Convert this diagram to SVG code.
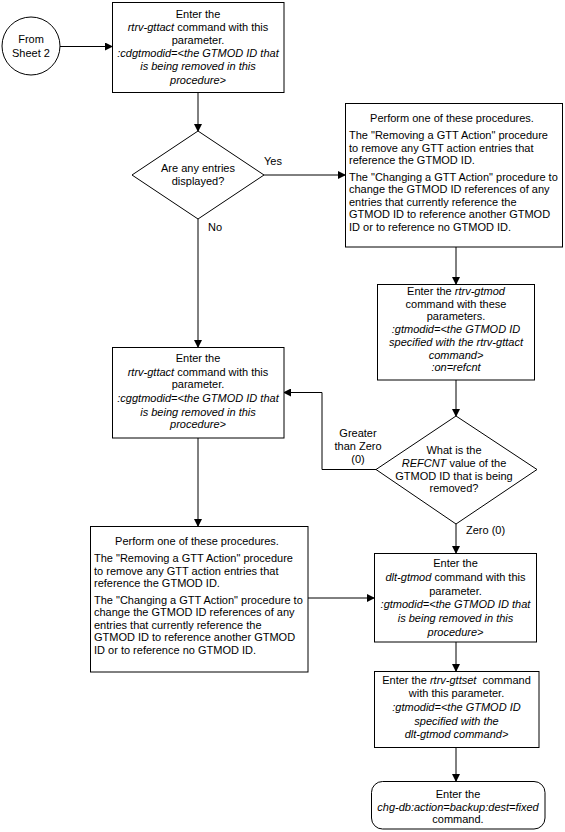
<svg xmlns="http://www.w3.org/2000/svg" width="565" height="832" viewBox="0 0 565 832">
<defs>
<marker id="ah" markerWidth="8" markerHeight="8" refX="7" refY="4" orient="auto" markerUnits="userSpaceOnUse">
<path d="M0,0 L8,4 L0,8 Z" fill="#000"/>
</marker>
<style>
.n{fill:#fff;stroke:#000;stroke-width:1}
.t{font-family:"Liberation Sans",Arial,sans-serif;font-size:11px;fill:#000}
.c{text-anchor:middle}
.i{font-style:italic}
.e{fill:none;stroke:#000;stroke-width:1;marker-end:url(#ah)}
.p{fill:none;stroke:#000;stroke-width:1}
</style>
</defs>
<rect width="565" height="832" fill="#fff"/>
<g id="connectors">
<line class="e" x1="60" y1="46.5" x2="112" y2="46.5"/>
<line class="e" x1="198" y1="92" x2="198" y2="131"/>
<line class="e" x1="264" y1="175" x2="345" y2="175"/>
<line class="e" x1="198" y1="219" x2="198" y2="347"/>
<line class="e" x1="456" y1="247" x2="456" y2="284"/>
<line class="e" x1="456" y1="380" x2="456" y2="416"/>
<polyline class="e" points="376,469.5 322,469.5 322,392.5 284,392.5"/>
<line class="e" x1="456" y1="524" x2="456" y2="553"/>
<line class="e" x1="198" y1="438" x2="198" y2="526"/>
<line class="e" x1="308" y1="598" x2="374" y2="598"/>
<line class="e" x1="456" y1="642" x2="456" y2="671"/>
<line class="e" x1="456" y1="747" x2="456" y2="781"/>
<text class="t" x="264" y="165">Yes</text>
<text class="t" x="208" y="231">No</text>
<text class="t c" x="358" y="437">Greater</text>
<text class="t c" x="358" y="450">than Zero</text>
<text class="t c" x="358" y="463">(0)</text>
<text class="t" x="466" y="534">Zero (0)</text>
</g>
<g id="start">
<circle class="n" cx="31" cy="46" r="29"/>
<text class="t c" x="31" y="43">From</text>
<text class="t c" x="31" y="57">Sheet 2</text>
</g>
<g id="box1">
<rect class="n" x="112.5" y="2.5" width="171.5" height="90"/>
<text class="t c" x="198" y="17.5">Enter the</text>
<text class="t c" x="198" y="30.8"><tspan class="i">rtrv-gttact</tspan> command with this</text>
<text class="t c" x="198" y="43.5">parameter.</text>
<text class="t c i" x="198" y="57.3">:cdgtmodid=&lt;the GTMOD ID that</text>
<text class="t c i" x="198" y="70">is being removed in this</text>
<text class="t c i" x="198" y="83.5">procedure&gt;</text>
</g>
<g id="decision1">
<polygon class="n" points="198,131 264,175 198,219 132,175"/>
<text class="t c" x="198" y="171.5">Are any entries</text>
<text class="t c" x="198" y="185">displayed?</text>
</g>
<g id="box2">
<rect class="n" x="345.5" y="103.5" width="217" height="143.5"/>
<text class="t c" x="452" y="122.3">Perform one of these procedures.</text>
<text class="t" x="349" y="139">The "Removing a GTT Action" procedure</text>
<text class="t" x="349" y="151.7">to remove any GTT action entries that</text>
<text class="t" x="349" y="164">reference the GTMOD ID.</text>
<text class="t" x="349" y="180.7">The "Changing a GTT Action" procedure to</text>
<text class="t" x="349" y="193.3">change the GTMOD ID references of any</text>
<text class="t" x="349" y="205.7">entries that currently reference the</text>
<text class="t" x="349" y="218.3">GTMOD ID to reference another GTMOD</text>
<text class="t" x="349" y="231.3">ID or to reference no GTMOD ID.</text>
</g>
<g id="box3">
<rect class="n" x="377.5" y="284.5" width="157" height="95.5"/>
<text class="t c" x="456" y="295">Enter the <tspan class="i">rtrv-gtmod</tspan></text>
<text class="t c" x="456" y="307.7">command with these</text>
<text class="t c" x="456" y="320.4">parameters.</text>
<text class="t c i" x="456" y="333.1">:gtmodid=&lt;the GTMOD ID</text>
<text class="t c i" x="456" y="345.8">specified with the rtrv-gttact</text>
<text class="t c i" x="456" y="358.5">command&gt;</text>
<text class="t c i" x="456" y="371.2">:on=refcnt</text>
</g>
<g id="box4">
<rect class="n" x="112.5" y="347.5" width="171.5" height="90.5"/>
<text class="t c" x="198" y="361.7">Enter the</text>
<text class="t c" x="198" y="375.7"><tspan class="i">rtrv-gttact</tspan> command with this</text>
<text class="t c" x="198" y="388">parameter.</text>
<text class="t c i" x="198" y="402.3">:cggtmodid=&lt;the GTMOD ID that</text>
<text class="t c i" x="198" y="415.7">is being removed in this</text>
<text class="t c i" x="198" y="428.3">procedure&gt;</text>
</g>
<g id="decision2">
<polygon class="n" points="456,416 537,469.5 456,524 376,469.5"/>
<text class="t c" x="454" y="454">What is the</text>
<text class="t c" x="454" y="467.3"><tspan class="i">REFCNT</tspan> value of the</text>
<text class="t c" x="454" y="480">GTMOD ID that is being</text>
<text class="t c" x="454" y="492.3">removed?</text>
</g>
<g id="box6">
<rect class="n" x="90.5" y="526.5" width="217.5" height="145.5"/>
<text class="t c" x="197" y="545.3">Perform one of these procedures.</text>
<text class="t" x="94" y="562">The "Removing a GTT Action" procedure</text>
<text class="t" x="94" y="574.7">to remove any GTT action entries that</text>
<text class="t" x="94" y="587">reference the GTMOD ID.</text>
<text class="t" x="94" y="603.7">The "Changing a GTT Action" procedure to</text>
<text class="t" x="94" y="616.3">change the GTMOD ID references of any</text>
<text class="t" x="94" y="628.7">entries that currently reference the</text>
<text class="t" x="94" y="641.3">GTMOD ID to reference another GTMOD</text>
<text class="t" x="94" y="654.3">ID or to reference no GTMOD ID.</text>
</g>
<g id="box5">
<rect class="n" x="374.5" y="553.5" width="162" height="88.5"/>
<text class="t c" x="455.5" y="567.3">Enter the</text>
<text class="t c" x="455.5" y="581.3"><tspan class="i">dlt-gtmod</tspan> command with this</text>
<text class="t c" x="455.5" y="594.7">parameter.</text>
<text class="t c i" x="455.5" y="608">:gtmodid=&lt;the GTMOD ID that</text>
<text class="t c i" x="455.5" y="621.7">is being removed in this</text>
<text class="t c i" x="455.5" y="635.7">procedure&gt;</text>
</g>
<g id="box7">
<rect class="n" x="374.5" y="671.5" width="164.5" height="76"/>
<text class="t c" x="456.5" y="684" style="white-space:pre">Enter the <tspan class="i">rtrv-gttset</tspan>  command</text>
<text class="t c" x="456.5" y="697.3">with this parameter.</text>
<text class="t c i" x="456.5" y="710.7">:gtmodid=&lt;the GTMOD ID</text>
<text class="t c i" x="456.5" y="724.7">specified with the</text>
<text class="t c i" x="456.5" y="738">dlt-gtmod command&gt;</text>
</g>
<g id="end">
<rect class="n" x="371.5" y="781.5" width="173.5" height="47.5" rx="11" ry="11"/>
<text class="t c" x="458" y="798">Enter the</text>
<text class="t c i" x="458" y="810.7">chg-db:action=backup:dest=fixed</text>
<text class="t c" x="458" y="823.3">command.</text>
</g>
</svg>
